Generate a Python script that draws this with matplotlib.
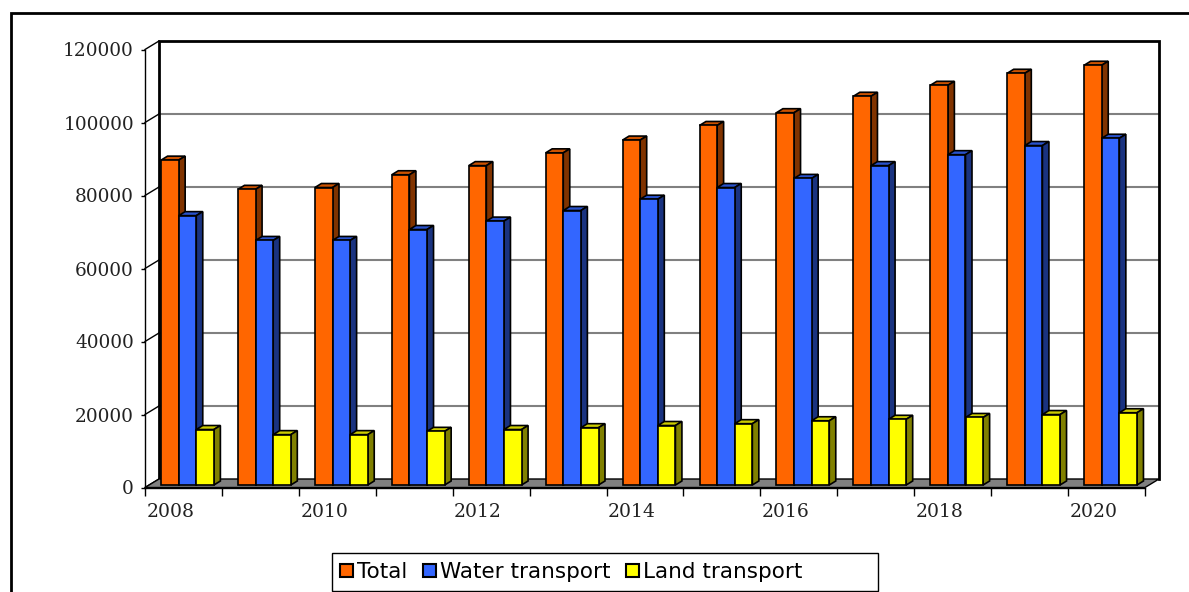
import matplotlib
matplotlib.use("Agg")
import matplotlib.pyplot as plt
from matplotlib.lines import Line2D
from matplotlib.patches import Polygon, Patch, Rectangle

# === data ===
years = list(range(2008, 2021))
total = [89000, 81000, 81500, 85000, 87500, 91000, 94500, 98500, 102000, 106500, 109500, 112800, 115000]
water = [73800, 67000, 67000, 70000, 72300, 75200, 78300, 81500, 84000, 87500, 90500, 93000, 95000]
land = [15200, 13800, 13800, 14700, 15200, 15700, 16300, 16800, 17600, 18000, 18500, 19300, 19800]
y_ticks = [0, 20000, 40000, 60000, 80000, 100000, 120000]
series_names = ["Total", "Water transport", "Land transport"]

# === style ===
W, H = 1189, 592
FRONT = ["#FF6600", "#3366FF", "#FFFF00"]
SIDE = ["#803300", "#1A3380", "#808000"]
TOP = ["#CC5200", "#2952CC", "#CCCC00"]
SERIF = "DejaVu Serif"
SANS = "DejaVu Sans"

# pixels -> data units on the front plane
PX_X = 13 / 1000
PX_Y = 120000 / 438
WALL_DX, WALL_DY = 14 * PX_X, 8.5 * PX_Y     # back wall depth
BAR_DX, BAR_DY = 4 * PX_X, 2.5 * PX_Y        # where the bars stand
SIDE_DX, SIDE_DY = 6.5 * PX_X, 4 * PX_Y      # depth of one bar
BAR_W = 0.229
LW = 1.2

fig = plt.figure(figsize=(W / 100, H / 100), dpi=100)
ax = fig.add_axes([145 / W, 1 - 487.5 / H, 1000 / W, 438 / H])
ax.set_xlim(0, 13)
ax.set_ylim(0, 120000)
ax.patch.set_visible(False)

# === walls and floor ===
ax.add_patch(Polygon([(0, 0), (13, 0), (13 + WALL_DX, WALL_DY), (WALL_DX, WALL_DY)],
                     closed=True, fc="#808080", ec="black", lw=1, clip_on=False, zorder=1))
for t in y_ticks[1:-1]:
    ax.plot([WALL_DX, 13 + WALL_DX], [t + WALL_DY] * 2, color="#808080", lw=1.5, clip_on=False, zorder=0.5)
for t in y_ticks:
    ax.plot([0, WALL_DX], [t, t + WALL_DY], color="black", lw=1, clip_on=False, zorder=0.6)
ax.plot([WALL_DX, WALL_DX, 13 + WALL_DX, 13 + WALL_DX],
        [WALL_DY, 120000 + WALL_DY, 120000 + WALL_DY, WALL_DY],
        color="black", lw=2, clip_on=False, zorder=0.7, solid_joinstyle="miter")

# === bars, left to right so each one covers the side of the previous ===
z = 2
for i, year in enumerate(years):
    left = i + 0.5 - 1.5 * BAR_W + BAR_DX
    for k, values in enumerate([total, water, land]):
        x0 = left + k * BAR_W
        x1 = x0 + BAR_W
        y0 = BAR_DY
        y1 = y0 + values[i]
        ax.add_patch(Polygon([(x0, y1), (x1, y1), (x1 + SIDE_DX, y1 + SIDE_DY), (x0 + SIDE_DX, y1 + SIDE_DY)],
                             closed=True, fc=TOP[k], ec="black", lw=LW, clip_on=False, zorder=z))
        ax.add_patch(Polygon([(x1, y0), (x1 + SIDE_DX, y0 + SIDE_DY), (x1 + SIDE_DX, y1 + SIDE_DY), (x1, y1)],
                             closed=True, fc=SIDE[k], ec="black", lw=LW, clip_on=False, zorder=z))
        ax.bar(x0, values[i], BAR_W, bottom=y0, align="edge", color=FRONT[k],
               edgecolor="black", linewidth=LW, clip_on=False, zorder=z + 0.5)
        z += 1

# === axes ===
for name in ["top", "right"]:
    ax.spines[name].set_visible(False)
ax.spines["left"].set_linewidth(1)
ax.spines["bottom"].set_linewidth(1)
ax.spines["left"].set_zorder(0.8)
ax.set_yticks(y_ticks)
ax.set_yticklabels([str(t) for t in y_ticks], fontfamily=SERIF, fontsize=13.3, color="#222222")
ax.tick_params(axis="y", length=3, width=1, pad=5)
ax.set_xticks(range(14))
ax.set_xticklabels([])
ax.tick_params(axis="x", which="major", length=6, width=1)
ax.set_xticks([i + 0.33 for i in range(0, 13, 2)], minor=True)
ax.set_xticklabels([str(y) for y in years[::2]], minor=True, fontfamily=SERIF, fontsize=13.5, color="#222222")
ax.tick_params(axis="x", which="minor", length=0, pad=11)

# === outer frame (cut off on the right and at the bottom) ===
fig.add_artist(Line2D([10.5 / W, 10.5 / W, 1], [0, 1 - 13 / H, 1 - 13 / H], color="black", lw=2,
                      solid_joinstyle="miter", transform=fig.transFigure))

# === legend box ===
fig.add_artist(Rectangle((332 / W, 1 - 591 / H), 546 / W, 38 / H, fc="white", ec="black", lw=1,
                         transform=fig.transFigure))
handles = [Patch(fc=c, ec="black", lw=1.5) for c in FRONT]
fig.legend(handles, series_names, loc="center left", bbox_to_anchor=(340 / W, 1 - 572 / H),
           ncol=3, frameon=False, prop={"family": SANS, "size": 15.5}, handlelength=0.6, handleheight=0.6,
           handletextpad=0.2, columnspacing=0.72, borderpad=0, borderaxespad=0)

fig.savefig("out.png", dpi=100)
